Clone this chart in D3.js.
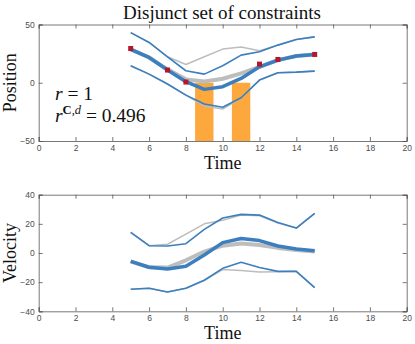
<!DOCTYPE html>
<html>
<head>
<meta charset="utf-8">
<script src="https://cdn.jsdelivr.net/npm/d3@7"></script>
<style>
  body { margin: 0; background: #fff; }
  .tick text { font-family: "Liberation Sans", Arial, sans-serif; font-size: 8.5px; fill: #4d4d4d; }
  .lab { font-family: "Liberation Serif", "DejaVu Serif", serif; fill: #111; }
</style>
</head>
<body>
<div id="chart"></div>
<script>
var time = [5, 6, 7, 8, 9, 10, 11, 12, 13, 14, 15]
var xTicks = [0, 2, 4, 6, 8, 10, 12, 14, 16, 18, 20]

// position panel
var posUpper = [43, 34.6, 22.3, 10.3, 7.4, 14.6, 23.7, 26.6, 32.3, 37.1, 39.4]
var posMean = [28.6, 21.7, 10.9, 0.9, -5.7, -3.4, 3.7, 13.7, 19.4, 22.9, 24.3]
var posLower = [14.6, 7.4, -1.1, -10.6, -18.3, -21.1, -12.9, 2.3, 8.6, 9.1, 10]
var posUpperFree = [43, 34.6, 22.3, 15.7, 22.3, 28.9, 30.6, 27.4, 32.3, 37.1, 39.4]
var posMeanFree = [28.6, 21.7, 11.5, 2.9, 1.1, 3.4, 8, 13.7, 19.4, 22.9, 24.3]
var posLowerFree = [14.6, 7.4, -1.1, -10.6, -20, -22.6, -13, 2.3, 8.6, 9.1, 10]
var markT = [5, 7, 8, 12, 13, 15]
var markP = [29.4, 10.9, 0.6, 16, 20, 24.3]
var barStart = [8.5, 10.5]
var barEnd = [9.5, 11.5]
var barTop = [0, 0]
var posTicks = [-50, 0, 50]

// velocity panel
var velUpper = [14.2, 5, 4.8, 6.4, 16.2, 24, 26.5, 26, 21, 17.1, 27.2]
var velMean = [-5.7, -9.8, -11, -9.1, -1.4, 7.1, 10, 8.5, 4.8, 2.7, 1.6]
var velLower = [-24.9, -24.2, -26.7, -24.2, -18.7, -10.5, -6.4, -10, -12.6, -12.6, -23.8]
var velUpperFree = [14.2, 5, 6, 13, 20, 22.5, 26, 25.5, 20.5, 17.1, 27.2]
var velMeanFree = [-5.7, -9.8, -10, -5, 1, 5, 6.5, 5.5, 3.5, 2, 1]
var velLowerFree = [-24.9, -24.2, -26.7, -24.2, -18.7, -11.4, -12, -13, -12.8, -12.6, -23.8]
var velTicks = [-40, -20, 0, 20, 40]

var blue = "#3b7fbf", grey = "#bdbdbd", orange = "#fda83c", red = "#b5172a"

var svg = d3.select("#chart").append("svg")
  .attr("width", 415).attr("height", 344)

var x = d3.scaleLinear().domain([0, 20]).range([38.7, 406.7])

function panel(top, bottom, ydom, yticks, series, free, ylabel) {
  var y = d3.scaleLinear().domain(ydom).range([bottom, top])
  var g = svg.append("g")

  var line = d3.line().x(function(d, i) { return x(time[i]) }).y(function(d) { return y(d) })

  g.append("g").call(d3.axisBottom(x).tickValues(xTicks).tickSize(-4).tickPadding(4))
    .attr("transform", "translate(0," + bottom + ")")
  g.append("g").call(d3.axisTop(x).tickValues(xTicks).tickSize(-4).tickFormat(""))
    .attr("transform", "translate(0," + top + ")")
  g.append("g").call(d3.axisLeft(y).tickValues(yticks).tickSize(-4).tickPadding(4))
    .attr("transform", "translate(" + x(0) + ",0)")
  g.append("g").call(d3.axisRight(y).tickValues(yticks).tickSize(-4).tickFormat(""))
    .attr("transform", "translate(" + x(20) + ",0)")
  g.selectAll(".domain").attr("stroke", "#555").attr("stroke-width", 0.8)
  g.selectAll(".tick line").attr("stroke", "#555").attr("stroke-width", 0.8)

  g.append("text").attr("class", "lab")
    .attr("transform", "translate(16," + ((top + bottom) / 2) + ") rotate(-90)")
    .attr("text-anchor", "middle").attr("font-size", 18).text(ylabel)
  g.append("text").attr("class", "lab")
    .attr("x", (x(0) + x(20)) / 2).attr("y", bottom + 28)
    .attr("text-anchor", "middle").attr("font-size", 18).text("Time")

  return { g: g, y: y, line: line, draw: function() {
    free.forEach(function(s, i) {
      g.append("path").attr("d", line(s)).attr("fill", "none").attr("stroke", grey)
        .attr("stroke-width", i == 1 ? 4 : 1.5).attr("stroke-linejoin", "round")
    })
    series.forEach(function(s, i) {
      g.append("path").attr("d", line(s)).attr("fill", "none").attr("stroke", blue)
        .attr("stroke-width", i == 1 ? 3.5 : 1.6).attr("stroke-linejoin", "round")
    })
  } }
}

svg.append("text").attr("class", "lab").attr("x", 222).attr("y", 19)
  .attr("text-anchor", "middle").attr("font-size", 19).text("Disjunct set of constraints")

var p1 = panel(24.5, 141, [-50, 50], posTicks, [posUpper, posMean, posLower],
  [posUpperFree, posMeanFree, posLowerFree], "Position")

// orange constraint bars go under the lines
p1.g.selectAll("rect.bar").data(barStart).enter().append("rect")
  .attr("x", function(d) { return x(d) })
  .attr("width", function(d, i) { return x(barEnd[i]) - x(d) })
  .attr("y", function(d, i) { return p1.y(barTop[i]) })
  .attr("height", function(d, i) { return p1.y(-50) - p1.y(barTop[i]) })
  .attr("fill", orange)
p1.draw()
p1.g.selectAll("rect.mk").data(markT).enter().append("rect")
  .attr("x", function(d) { return x(d) - 2.5 })
  .attr("y", function(d, i) { return p1.y(markP[i]) - 2.5 })
  .attr("width", 5).attr("height", 5).attr("fill", red)

var t1 = p1.g.append("text").attr("class", "lab").attr("x", 55).attr("y", 100).attr("font-size", 19.5)
t1.append("tspan").attr("font-style", "italic").text("r")
t1.append("tspan").text(" = 1")
var t2 = p1.g.append("text").attr("class", "lab").attr("x", 55).attr("y", 122).attr("font-size", 19.5)
t2.append("tspan").attr("font-style", "italic").text("r")
t2.append("tspan").attr("font-size", 12.5).attr("dy", -8).attr("font-weight", "bold").text("C")
t2.append("tspan").attr("font-size", 12.5).text(",")
t2.append("tspan").attr("font-size", 12.5).attr("font-style", "italic").text("d")
t2.append("tspan").attr("dy", 8).text(" = 0.496")

var p2 = panel(194.7, 311.3, [-40, 40], velTicks, [velUpper, velMean, velLower],
  [velUpperFree, velMeanFree, velLowerFree], "Velocity")
p2.draw()
</script>
</body>
</html>
